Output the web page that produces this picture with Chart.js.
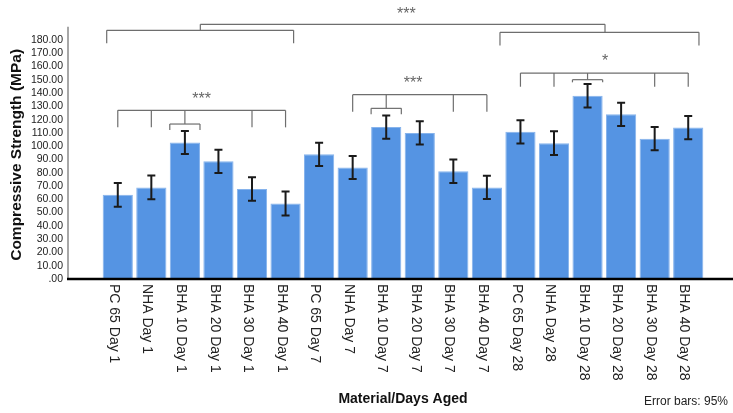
<!DOCTYPE html>
<html>
<head>
<meta charset="utf-8">
<script src="https://cdn.jsdelivr.net/npm/chart.js@4/dist/chart.umd.min.js"></script>
<style>
  html, body { margin: 0; padding: 0; background: #ffffff; }
  #wrap { width: 733px; height: 413px; }
</style>
</head>
<body>
<div id="wrap"><canvas id="c" width="733" height="413"></canvas></div>
<script>
// ---- data ----
const categories = [
  'PC 65 Day 1', 'NHA Day 1', 'BHA 10 Day 1', 'BHA 20 Day 1', 'BHA 30 Day 1', 'BHA 40 Day 1',
  'PC 65 Day 7', 'NHA Day 7', 'BHA 10 Day 7', 'BHA 20 Day 7', 'BHA 30 Day 7', 'BHA 40 Day 7',
  'PC 65 Day 28', 'NHA Day 28', 'BHA 10 Day 28', 'BHA 20 Day 28', 'BHA 30 Day 28', 'BHA 40 Day 28'
];
const meanStrength = [63.4, 69.0, 102.8, 88.6, 67.8, 56.8, 93.9, 84.0, 114.4, 110.0, 81.1, 69.0, 110.8, 102.3, 138.0, 124.0, 105.7, 114.0];
const ci95 = [8.9, 8.9, 8.7, 8.8, 8.8, 9.0, 8.8, 8.7, 8.7, 8.8, 8.8, 8.8, 8.8, 8.9, 8.8, 8.8, 8.8, 8.7];
const yTickMax = 180;
const yTickStep = 10;
const yAxisTitle = 'Compressive Strength (MPa)';
const xAxisTitle = 'Material/Days Aged';
const errorNote = 'Error bars: 95%';

// significance brackets within each ageing day (category indices, values in MPa)
const dayGroupFrom  = [0, 7, 12];
const dayGroupTo    = [5, 11, 17];
const dayGroupTicks = [[1, 4], [10], [13, 16]];
const dayGroupHub   = [2, 8, 14];
const dayGroupLevel = [127.0, 138.8, 155.1];
const dayGroupEnd   = [114.2, 126.0, 144.8];
const dayGroupHubLevel = [116.7, 128.5, 150.1];
const dayGroupHubEnd   = [112.2, 124.0, 148.1];
const dayGroupLabel = ['***', '***', '*'];
const dayGroupLabelX = [2.5, 8.8, 14.52];
const dayGroupLabelY = [138.5, 150.6, 167.4];

// top comparison: Day 1 vs Day 28
const outerFrom  = [-0.33, 11.39];
const outerTo    = [5.24, 17.32];
const outerLevel = [187.3, 185.8];
const outerEnd   = [177.5, 175.8];
const topFrom = 2.46, topTo = 14.52, topLevel = 191.8;
const topLabel = '***', topLabelX = 8.6, topLabelY = 202.6;

const FONT = "'Liberation Sans', Arial, sans-serif";

const decor = {
  id: 'decor',
  afterDatasetsDraw(chart) {
    const { ctx, chartArea: ca, scales: { x, y } } = chart;
    ctx.save();
    // error bars
    ctx.strokeStyle = '#1a1a1a';
    ctx.lineWidth = 2;
    meanStrength.forEach((m, i) => {
      const px = x.getPixelForValue(i);
      const hi = y.getPixelForValue(m + ci95[i]);
      const lo = y.getPixelForValue(m - ci95[i]);
      ctx.beginPath();
      ctx.moveTo(px, hi); ctx.lineTo(px, lo);
      ctx.moveTo(px - 4, hi); ctx.lineTo(px + 4, hi);
      ctx.moveTo(px - 4, lo); ctx.lineTo(px + 4, lo);
      ctx.stroke();
    });
    // axes
    const axisX = ca.left - 33;
    ctx.strokeStyle = '#8a8a8a';
    ctx.lineWidth = 1.5;
    ctx.beginPath();
    ctx.moveTo(axisX, y.getPixelForValue(190));
    ctx.lineTo(axisX, ca.bottom);
    ctx.stroke();
    ctx.strokeStyle = '#000';
    ctx.lineWidth = 2.5;
    ctx.beginPath();
    ctx.moveTo(axisX - 1, ca.bottom);
    ctx.lineTo(733, ca.bottom);
    ctx.stroke();
    ctx.restore();
  },
  afterDraw(chart) {
    const { ctx, chartArea: ca, scales: { x, y } } = chart;
    const X = v => x.getPixelForValue(v);
    const Y = v => y.getPixelForValue(v);
    ctx.save();
    // brackets
    ctx.strokeStyle = '#6e6e6e';
    ctx.lineWidth = 1.2;
    const line = (x1, y1, x2, y2) => { ctx.beginPath(); ctx.moveTo(x1, y1); ctx.lineTo(x2, y2); ctx.stroke(); };
    for (let g = 0; g < dayGroupFrom.length; g++) {
      const L = Y(dayGroupLevel[g]), E = Y(dayGroupEnd[g]);
      line(X(dayGroupFrom[g]), E, X(dayGroupFrom[g]), L);
      line(X(dayGroupFrom[g]), L, X(dayGroupTo[g]), L);
      line(X(dayGroupTo[g]), L, X(dayGroupTo[g]), E);
      dayGroupTicks[g].forEach(t => line(X(t), L, X(t), E));
      const h = dayGroupHub[g], HL = Y(dayGroupHubLevel[g]), HE = Y(dayGroupHubEnd[g]);
      line(X(h), L, X(h), HL);
      line(X(h - 0.45), HE, X(h - 0.45), HL);
      line(X(h - 0.45), HL, X(h + 0.45), HL);
      line(X(h + 0.45), HL, X(h + 0.45), HE);
    }
    for (let g = 0; g < outerFrom.length; g++) {
      const L = Y(outerLevel[g]), E = Y(outerEnd[g]);
      line(X(outerFrom[g]), E, X(outerFrom[g]), L);
      line(X(outerFrom[g]), L, X(outerTo[g]), L);
      line(X(outerTo[g]), L, X(outerTo[g]), E);
    }
    const T = Y(topLevel);
    line(X(topFrom), Y(outerLevel[0]), X(topFrom), T);
    line(X(topFrom), T, X(topTo), T);
    line(X(topTo), T, X(topTo), Y(outerLevel[1]));
    // significance labels
    ctx.fillStyle = '#666';
    ctx.font = '16px ' + FONT;
    ctx.textAlign = 'center';
    ctx.textBaseline = 'alphabetic';
    const star = (s, vx, vy) => ctx.fillText(s, X(vx), Y(vy) + 9);
    for (let g = 0; g < dayGroupLabel.length; g++) star(dayGroupLabel[g], dayGroupLabelX[g], dayGroupLabelY[g]);
    star(topLabel, topLabelX, topLabelY);

    // category labels, rotated clockwise
    ctx.fillStyle = '#222';
    ctx.font = '14px ' + FONT;
    ctx.textAlign = 'left';
    ctx.textBaseline = 'middle';
    categories.forEach((c, i) => {
      ctx.save();
      ctx.translate(X(i) - 4, ca.bottom + 5);
      ctx.rotate(Math.PI / 2);
      ctx.fillText(c, 0, 0);
      ctx.restore();
    });
    // axis titles
    ctx.fillStyle = '#111';
    ctx.font = 'bold 14px ' + FONT;
    ctx.textAlign = 'center';
    ctx.textBaseline = 'middle';
    ctx.fillText(xAxisTitle, (ca.left + ca.right) / 2, 399);
    ctx.save();
    ctx.font = 'bold 15.5px ' + FONT;
    ctx.translate(17, (Y(190) + ca.bottom) / 2 + 2);
    ctx.rotate(-Math.PI / 2);
    ctx.fillText(yAxisTitle, 0, 0);
    ctx.restore();
    ctx.font = '12px ' + FONT;
    ctx.fillStyle = '#222';
    ctx.textAlign = 'right';
    ctx.fillText(errorNote, 728, 402);
    ctx.restore();
  }
};

new Chart(document.getElementById('c'), {
  type: 'bar',
  data: {
    labels: categories,
    datasets: [{
      data: meanStrength,
      backgroundColor: '#5594e3',
      borderColor: '#86b3ec',
      borderWidth: 1,
      categoryPercentage: 1.0,
      barPercentage: 0.9
    }]
  },
  options: {
    responsive: false,
    animation: false,
    devicePixelRatio: 1,
    layout: { padding: { top: 26.7, right: 28, bottom: 134, left: 0 } },
    plugins: { legend: { display: false }, tooltip: { enabled: false }, title: { display: false } },
    scales: {
      x: { display: false, offset: true },
      y: {
        min: 0, max: 190,
        afterFit(s) { s.width = 101; s.paddingTop = 0; s.paddingBottom = 0; },
        border: { display: false },
        grid: { display: false, drawTicks: false },
        ticks: {
          stepSize: yTickStep,
          maxTicksLimit: 40,
          autoSkip: false,
          padding: 38,
          color: '#222',
          font: { family: FONT, size: 10.5 },
          callback: v => v > yTickMax ? '' : (v === 0 ? '.00' : v.toFixed(2))
        }
      }
    }
  },
  plugins: [decor]
});
</script>
</body>
</html>
